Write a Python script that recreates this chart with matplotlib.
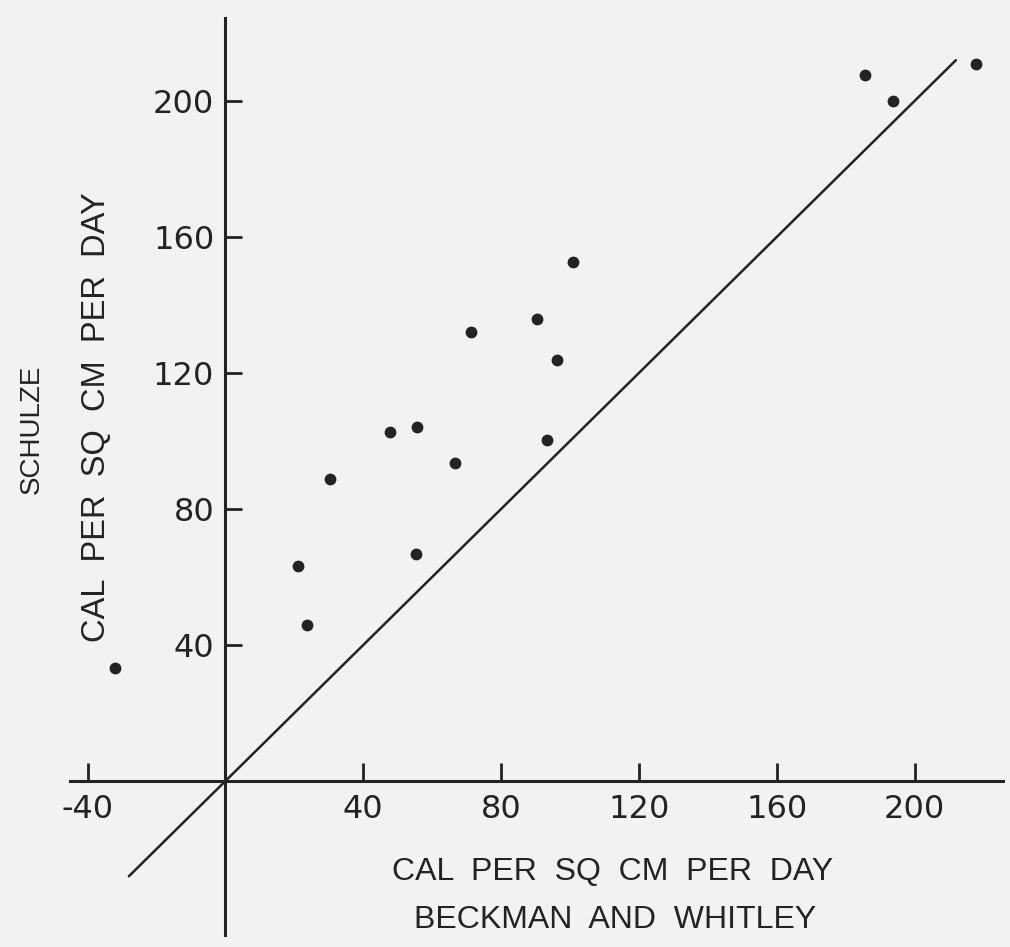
import matplotlib.pyplot as plt
import numpy as np

# Beckman and Whitley vs Schulze, cal per sq cm per day
beckman = [-32.1, 21.0, 23.7, 30.3, 47.7, 55.6, 66.6, 55.3,
           71.2, 90.4, 96.2, 93.3, 100.8, 185.6, 193.7, 217.8]
schulze = [33.2, 63.2, 45.9, 88.8, 102.6, 104.1, 93.5, 66.8,
           132.1, 135.9, 123.8, 100.3, 152.6, 207.6, 200.0, 210.9]

line_range = [-28, 212]
x_ticks = [-40, 40, 80, 120, 160, 200]
y_ticks = [40, 80, 120, 160, 200]

ink = "#232323"
paper = "#f2f2f0"

plt.rcParams['axes.unicode_minus'] = False
label_font = ['Liberation Sans', 'DejaVu Sans']

fig = plt.figure(figsize=(10.10, 9.47), dpi=100, facecolor=paper)
ax = fig.add_axes([0, 0, 1, 1], facecolor=paper)

ax.plot(line_range, line_range, color=ink, linewidth=1.8, solid_capstyle='round')
ax.plot(beckman, schulze, 'o', color=ink, markersize=8.5, markeredgewidth=0)

ax.set_xlim(-65.4, 227.7)
ax.set_ylim(-48.8, 229.7)

for side in ['top', 'right']:
    ax.spines[side].set_visible(False)
ax.spines['left'].set_position(('data', 0))
ax.spines['bottom'].set_position(('data', 0))
ax.spines['left'].set_bounds(-45.3, 224.4)
ax.spines['bottom'].set_bounds(-45, 225.6)
for side in ['left', 'bottom']:
    ax.spines[side].set_linewidth(2.2)
    ax.spines[side].set_color(ink)

ax.set_xticks(x_ticks)
ax.set_yticks(y_ticks)
ax.set_xticklabels([str(t) for t in x_ticks])
ax.set_yticklabels([str(t) for t in y_ticks])
ax.tick_params(axis='x', direction='in', length=13, width=2, color=ink,
               labelsize=23, labelcolor=ink, pad=9)
ax.tick_params(axis='y', direction='in', length=12, width=2, color=ink,
               labelsize=23, labelcolor=ink, pad=8)

fig.text(613 / 1010, 1 - 872 / 947, "CAL  PER  SQ  CM  PER  DAY", ha='center', va='center',
         fontsize=23, color=ink, family=label_font)
fig.text(615 / 1010, 1 - 920 / 947, "BECKMAN  AND  WHITLEY", ha='center', va='center',
         fontsize=23, color=ink, family=label_font)
fig.text(97 / 1010, 1 - 417 / 947, "CAL  PER  SQ  CM  PER  DAY", ha='center', va='center',
         rotation=90, fontsize=23.5, color=ink, family=label_font)
fig.text(32 / 1010, 1 - 429 / 947, "SCHULZE", ha='center', va='center',
         rotation=90, fontsize=20, color=ink, family=label_font)

fig.savefig("out.png", dpi=100, facecolor=paper)
